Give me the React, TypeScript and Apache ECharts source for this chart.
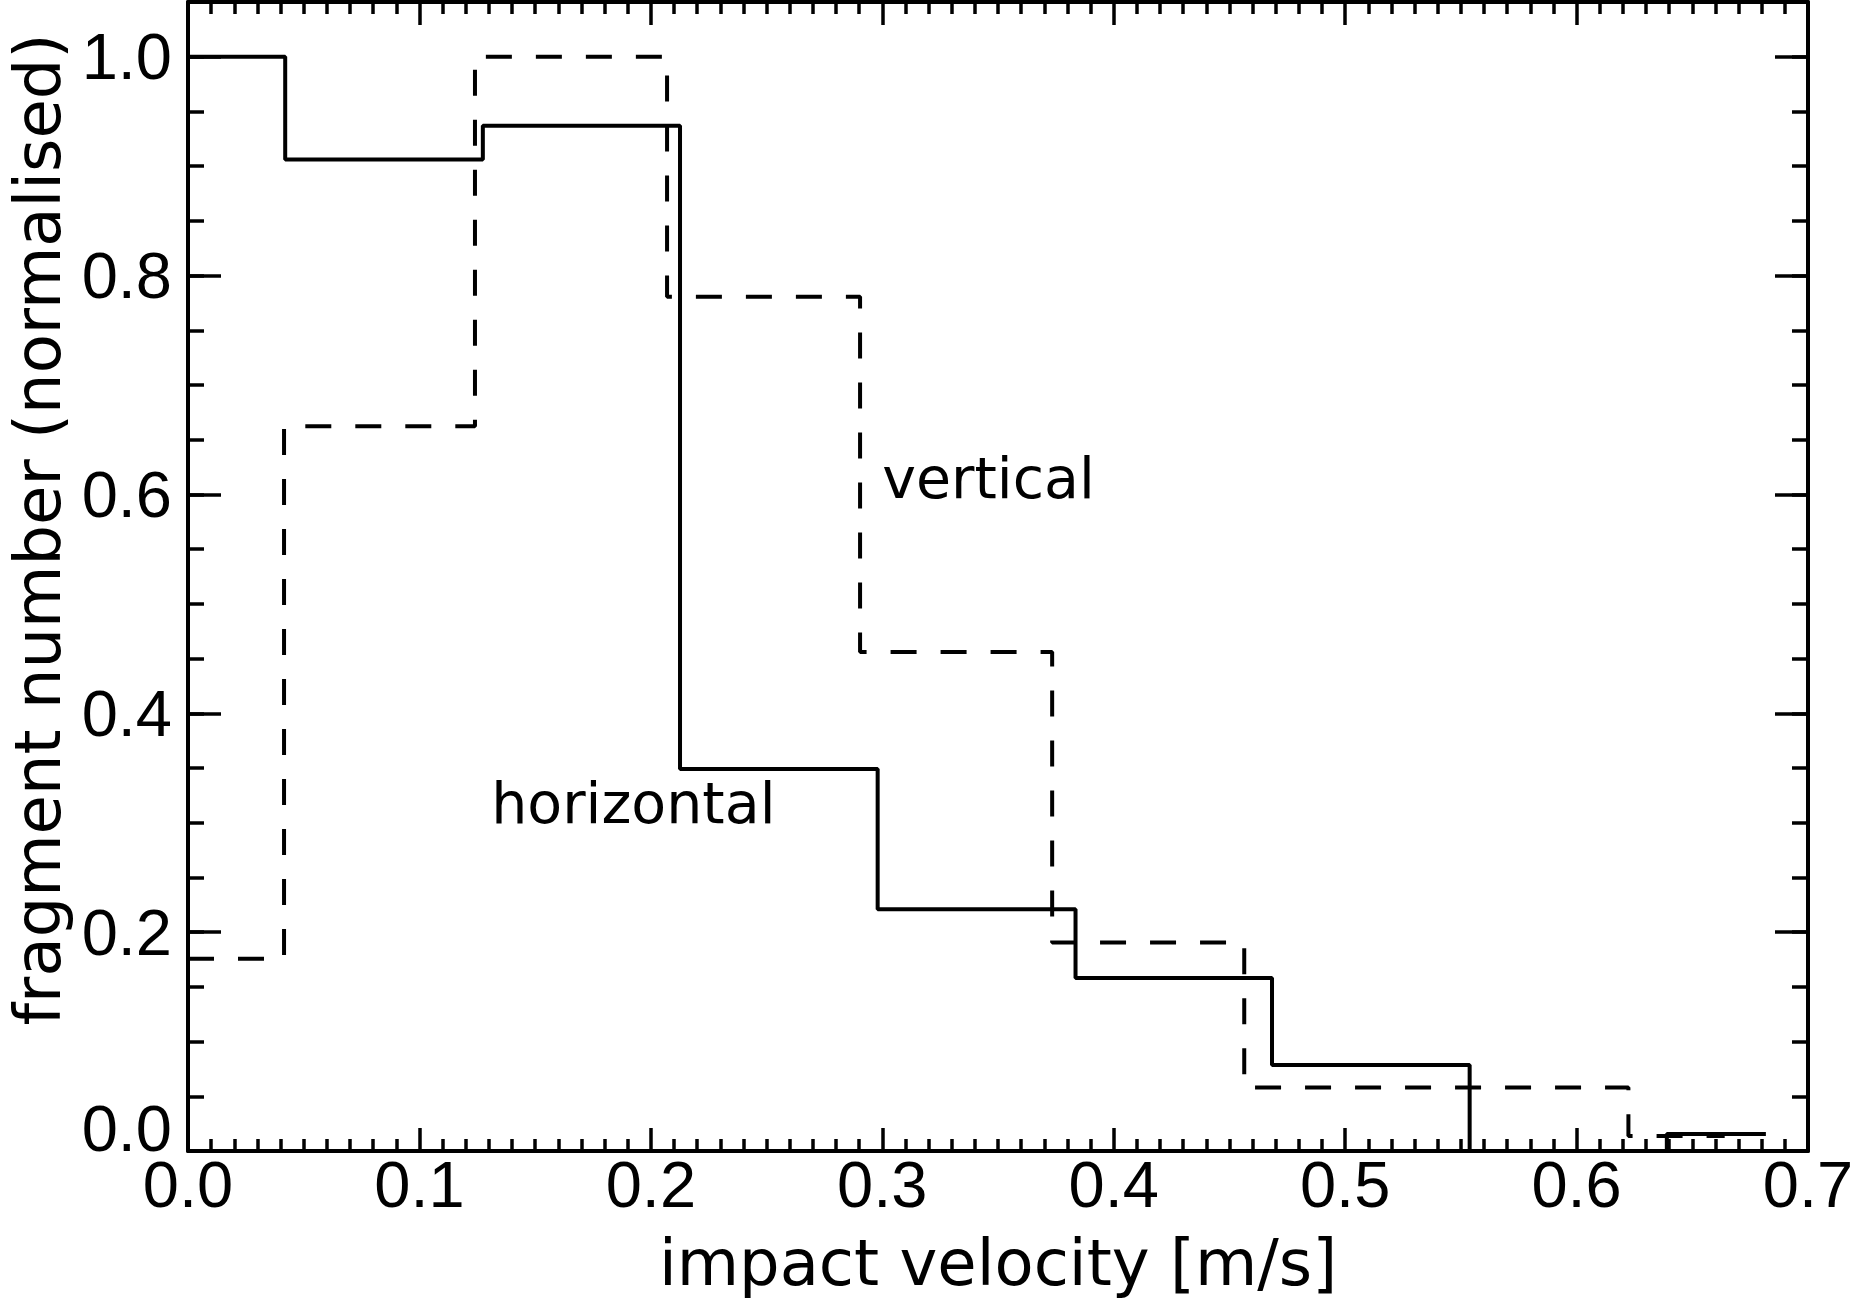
import React, { useEffect, useRef } from "react";
import * as echarts from "echarts";

// ---- data ----
const horizontalEdges = [0, 0.042, 0.1274, 0.2126, 0.298, 0.3835, 0.4684, 0.5538, 0.639, 0.6818];
const horizontalValues = [1.0, 0.906, 0.937, 0.349, 0.221, 0.158, 0.0786, 0.0, 0.0155];

const verticalEdges = [0, 0.0415, 0.124, 0.207, 0.2904, 0.3734, 0.4564, 0.5394, 0.6224, 0.664];
const verticalValues = [0.1756, 0.6624, 1.0, 0.7807, 0.456, 0.1905, 0.058, 0.058, 0.0137];

const annotationTexts = ["vertical", "horizontal"];
const annotationX = [0.3, 0.131];
const annotationY = [0.615, 0.318];

const xTitle = "impact velocity [m/s]";
const yTitle = "fragment number (normalised)";

const X_MIN = 0;
const X_MAX = 0.7;
const X_MAJOR = 0.1;
const X_MINOR_SPLIT = 10;
const Y_MIN = 0;
const Y_MAX = 1.05;
const Y_MAJOR = 0.2;
const Y_MINOR = 0.05;

function stepPoints(edges: number[], values: number[]) {
  const pts: number[][] = values.map((v, i) => [edges[i], v]);
  pts.push([edges[edges.length - 1], values[values.length - 1]]);
  return pts;
}

const TEXT_FONT = "'DejaVu Sans', 'Liberation Sans', sans-serif";
const NUM_FONT = "'Liberation Sans', 'DejaVu Sans', sans-serif";
const BLACK = "#000000";

export default function App() {
  const ref = useRef<HTMLDivElement>(null);

  useEffect(() => {
    if (!ref.current) return;
    const chart = echarts.init(ref.current, undefined, { renderer: "svg" });

    const axisLine = { show: true, onZero: false, lineStyle: { color: BLACK, width: 4 } };
    const labelStyle = { color: BLACK, fontFamily: NUM_FONT, fontSize: 65 };

    const xBase = (pos: "bottom" | "top", showLabel: boolean) => ({
      type: "value",
      position: pos,
      min: X_MIN,
      max: X_MAX,
      interval: X_MAJOR,
      axisLine,
      axisTick: { show: true, inside: true, length: 23, lineStyle: { color: BLACK, width: 3.5 } },
      minorTick: { show: true, splitNumber: X_MINOR_SPLIT, length: 12, lineStyle: { color: BLACK, width: 3.5 } },
      splitLine: { show: false },
      minorSplitLine: { show: false },
      axisLabel: {
        show: showLabel,
        margin: 8,
        ...labelStyle,
        lineHeight: 50,
        formatter: (v: number) => v.toFixed(1),
      },
    });

    const isMajorY = (v: number) => Math.abs(v / Y_MAJOR - Math.round(v / Y_MAJOR)) < 1e-6;

    const yBase = (pos: "left" | "right", interval: number, len: number, showLabel: boolean, showLine: boolean) => ({
      type: "value",
      position: pos,
      min: Y_MIN,
      max: Y_MAX,
      interval,
      axisLine: { ...axisLine, show: showLine },
      axisTick: { show: true, inside: true, length: len, lineStyle: { color: BLACK, width: 3.5 } },
      splitLine: { show: false },
      axisLabel: {
        show: showLabel,
        margin: 16,
        ...labelStyle,
        lineHeight: 46,
        verticalAlignMinLabel: "bottom",
        formatter: (v: number) => (isMajorY(v) ? v.toFixed(1) : ""),
      },
    });

    const yMain: any = yBase("left", Y_MAJOR, 33, true, true);
    yMain.name = yTitle;
    yMain.nameLocation = "middle";
    yMain.nameGap = 118;
    yMain.nameMoveOverlap = false;
    yMain.nameTextStyle = { color: BLACK, fontFamily: TEXT_FONT, fontSize: 64, padding: [0, 0, 0, 94] };

    const xMain: any = xBase("bottom", true);
    xMain.name = xTitle;
    xMain.nameLocation = "middle";
    xMain.nameGap = 84;
    xMain.nameMoveOverlap = false;
    xMain.nameTextStyle = { color: BLACK, fontFamily: TEXT_FONT, fontSize: 64, lineHeight: 56 };

    chart.setOption({
      animation: false,
      backgroundColor: "#fff",
      grid: { left: 188, right: 49, top: 2, bottom: 152, containLabel: false, outerBoundsMode: "none" },
      xAxis: [xMain, xBase("top", false)],
      yAxis: [
        yMain,
        yBase("left", Y_MINOR, 16, false, false),
        yBase("right", Y_MAJOR, 33, false, true),
        yBase("right", Y_MINOR, 16, false, false),
      ],
      series: [
        {
          name: "horizontal",
          type: "line",
          step: "end",
          xAxisIndex: 0,
          yAxisIndex: 0,
          symbol: "none",
          data: stepPoints(horizontalEdges, horizontalValues),
          lineStyle: { color: BLACK, width: 4, type: "solid" },
          z: 3,
        },
        {
          name: "vertical",
          type: "line",
          step: "end",
          xAxisIndex: 0,
          yAxisIndex: 0,
          symbol: "none",
          data: stepPoints(verticalEdges, verticalValues),
          lineStyle: { color: BLACK, width: 4, type: [26, 24] },
          z: 3,
        },
        {
          name: "labels",
          type: "scatter",
          xAxisIndex: 0,
          yAxisIndex: 0,
          symbolSize: 0,
          silent: true,
          itemStyle: { color: BLACK, opacity: 1 },
          data: annotationTexts.map((t, i) => ({ value: [annotationX[i], annotationY[i]], name: t })),
          label: {
            show: true,
            position: [0, 0],
            align: "left",
            verticalAlign: "middle",
            formatter: (p: any) => "{t|" + p.name + "}",
            rich: {
              t: { color: BLACK, fontFamily: TEXT_FONT, fontSize: 57, opacity: 1 },
            },
          },
        },
      ],
    });

    return () => chart.dispose();
  }, []);

  return (
    <div
      ref={ref}
      style={{ position: "fixed", left: 0, top: 0, width: 1857, height: 1303, background: "#fff" }}
    />
  );
}
